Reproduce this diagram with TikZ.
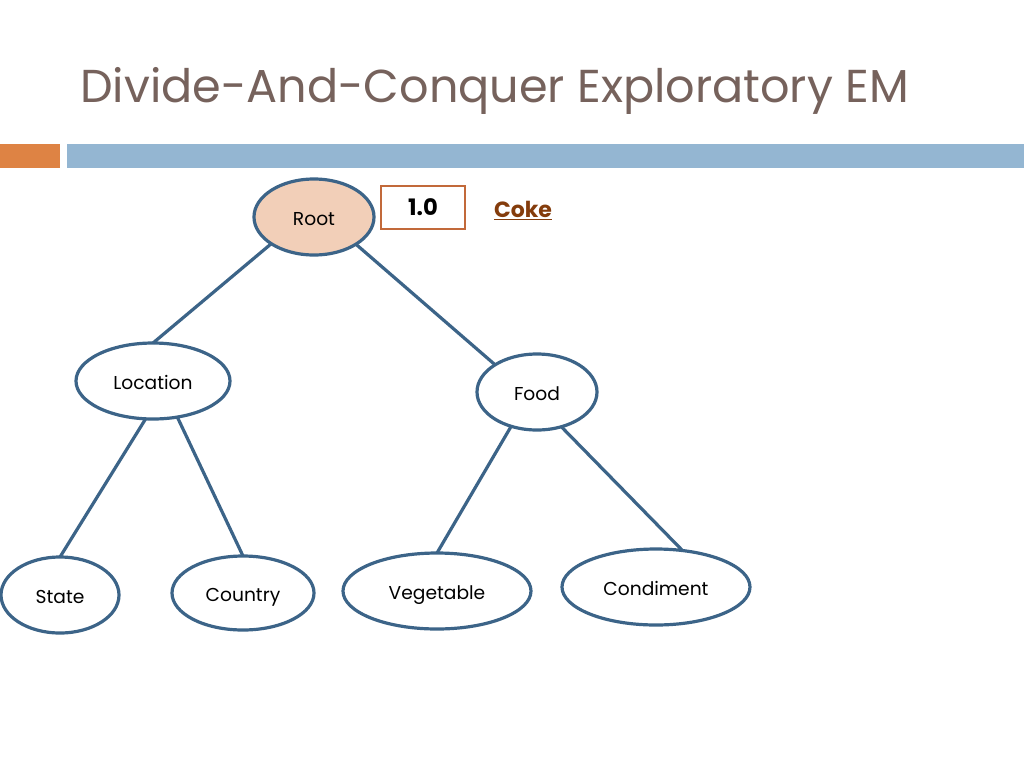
\documentclass[tikz,border=0pt]{standalone}
\usepackage{fontspec}
\setmainfont{Poppins}
\usetikzlibrary{shapes.geometric}
\definecolor{titlebrown}{HTML}{76625C}
\definecolor{barorange}{HTML}{DE8344}
\definecolor{barblue}{HTML}{94B6D2}
\definecolor{edgeblue}{HTML}{3C6488}
\definecolor{rootfill}{HTML}{F2CFB8}
\definecolor{boxorange}{HTML}{C2693A}
\definecolor{cokebrown}{HTML}{843C0C}
\tikzset{
  concept/.style={ellipse, draw=edgeblue, line width=2.4pt, fill=white, inner sep=0pt, outer sep=0pt, text height=12.4pt, text depth=0pt, font=\fontsize{14}{16}\selectfont},
  link/.style={draw=edgeblue, line width=2.4pt},
}
\begin{document}
\begin{tikzpicture}[x=0.75pt,y=-0.75pt]
\useasboundingbox (0,0) rectangle (1024,768);
\fill[white] (0,0) rectangle (1024,768);
\node[anchor=base west, text=titlebrown, inner sep=0pt, font=\fontsize{34.6}{40}\selectfont] (title) at (80,102) {Divide-And-Conquer Exploratory EM};
\fill[barorange] (0,144) rectangle (60,168);
\fill[barblue] (67,144) rectangle (1024,168);
\node[concept, fill=rootfill, minimum width=120*0.75pt, minimum height=76*0.75pt] (root) at (314,217) {Root};
\node[draw=boxorange, line width=1.2pt, minimum width=84*0.75pt, minimum height=43*0.75pt, inner sep=0pt, font=\fontsize{17}{19}\selectfont\bfseries] (val) at (423,207.5) {1.0};
\node[text=cokebrown, font=\fontsize{16.5}{18}\selectfont\bfseries, inner sep=0pt] (coke) at (523,211) {\underline{Coke}};
\node[concept, minimum width=154*0.75pt, minimum height=76*0.75pt] (loc) at (153,381) {Location};
\node[concept, minimum width=120*0.75pt, minimum height=76*0.75pt] (food) at (537,392) {Food};
\node[concept, minimum width=118*0.75pt, minimum height=76*0.75pt] (state) at (60,595) {State};
\node[concept, minimum width=142*0.75pt, minimum height=74*0.75pt] (country) at (243,593) {Country};
\node[concept, minimum width=188*0.75pt, minimum height=76*0.75pt] (veg) at (437,591) {Vegetable};
\node[concept, minimum width=188*0.75pt, minimum height=76*0.75pt] (cond) at (656,587) {Condiment};
\draw[link] (root.212.7) -- (loc.90);
\draw[link] (root.327.9) -- (food.147.9);
\draw[link] (loc.259.8) -- (state.90);
\draw[link] (loc.304.7) -- (country.90);
\draw[link] (food.233.1) -- (veg.90);
\draw[link] (food.305.8) -- (cond.54.6);
\end{tikzpicture}
\end{document}
